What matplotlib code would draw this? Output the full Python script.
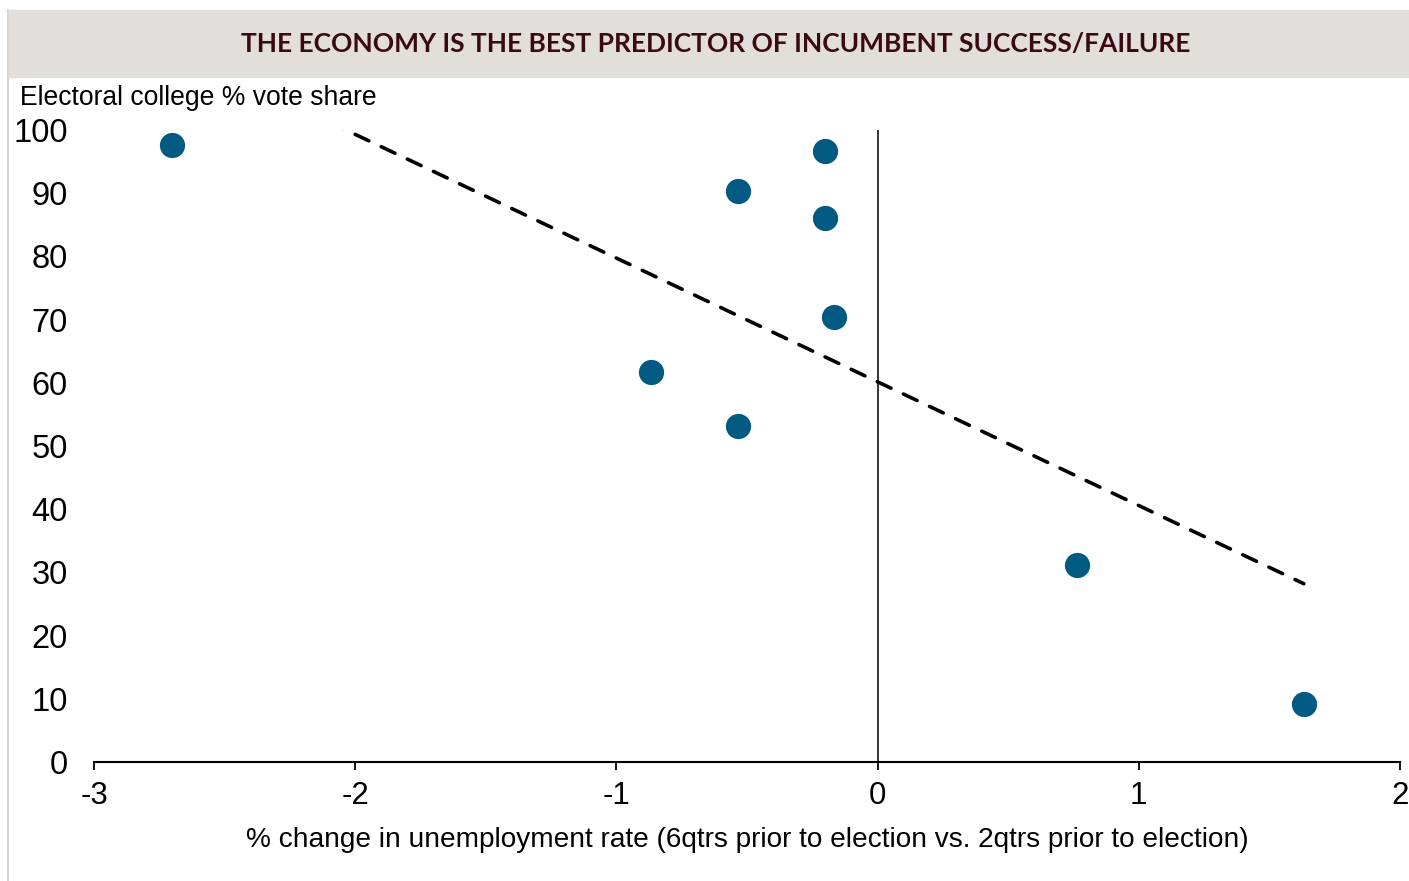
import numpy as np
import matplotlib.pyplot as plt
from matplotlib.patches import Rectangle
from matplotlib.lines import Line2D

# change in unemployment rate vs. incumbent electoral college share
unemp_change = [-2.70, -0.20, -0.535, -0.20, -0.167, -0.868, -0.535, 0.763, 1.632]
ec_share = [97.6, 96.7, 90.3, 86.1, 70.4, 61.7, 53.2, 31.2, 9.2]

x_ticks = [-3, -2, -1, 0, 1, 2]
y_ticks = [0, 10, 20, 30, 40, 50, 60, 70, 80, 90, 100]

title = "THE ECONOMY IS THE BEST PREDICTOR OF INCUMBENT SUCCESS/FAILURE"
ylab = "Electoral college % vote share"
xlab = "% change in unemployment rate (6qtrs prior to election vs. 2qtrs prior to election)"

dot_col = '#005a82'
banner_col = '#e1dedb'
title_col = '#3b0a10'

plt.rcParams['font.family'] = ['Liberation Sans', 'DejaVu Sans']

W, H = 1409, 881
fig = plt.figure(figsize=(W / 100, H / 100), dpi=100)

# header banner and left frame line
fig.patches.append(Rectangle((8 / W, 1 - 77 / H), 1 - 8 / W, 67 / H,
                             transform=fig.transFigure, color=banner_col, zorder=0))
fig.add_artist(Line2D([8 / W, 8 / W], [0, 1 - 10 / H], transform=fig.transFigure,
                      color='#d9d6d3', lw=1.5))
fig.text(716 / W, 1 - 44 / H, title, ha='center', va='center', fontsize=19,
         fontweight='bold', color=title_col, family=['Lato', 'DejaVu Sans'])

ax = fig.add_axes([94 / W, 119 / H, 1306 / W, 632 / H])

x = np.array(unemp_change)
y = np.array(ec_share)

# least squares trend line over the data range
slope, icpt = np.polyfit(x, y, 1)
xf = np.array([x.min(), x.max()])
ax.plot(xf, slope * xf + icpt, color='black', lw=2.6, dashes=(4.2, 3.8),
        dash_capstyle='round', zorder=2)

ax.axvline(0, color='black', lw=1.1, zorder=1)
ax.scatter(x, y, s=330, color=dot_col, zorder=3, clip_on=False, linewidths=0)

ax.set_xlim(-3, 2)
ax.set_ylim(0, 100)
ax.set_xticks(x_ticks)
ax.set_xticklabels([str(t) for t in x_ticks])
ax.set_yticks(y_ticks)

for s in ['top', 'right', 'left']:
    ax.spines[s].set_visible(False)
ax.spines['bottom'].set_linewidth(1.5)
ax.tick_params(axis='x', direction='out', length=6, width=1.3, pad=8, labelsize=22.5)
ax.tick_params(axis='y', length=0, pad=19, labelsize=23.5)

ax.set_xlabel(xlab, fontsize=20.2, labelpad=11)
fig.text(20 / W, 1 - 98 / H, ylab, ha='left', va='center', fontsize=19.1)

fig.savefig('out.png', dpi=100)
